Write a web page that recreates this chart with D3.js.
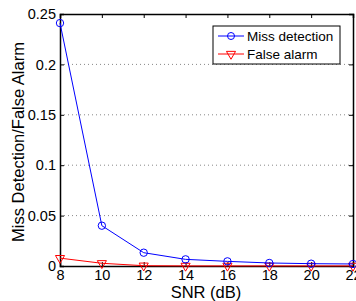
<!DOCTYPE html>
<html>
<head>
<meta charset="utf-8">
<script src="https://cdn.jsdelivr.net/npm/d3@7"></script>
<style>
body { margin: 0; background: #fff; }
text { font-family: "Liberation Sans", Arial, sans-serif; }
</style>
</head>
<body>
<script>
const snr = [8, 10, 12, 14, 16, 18, 20, 22];
const missDetection = [0.241, 0.040, 0.0132, 0.0066, 0.0046, 0.0030, 0.0023, 0.0020];
const falseAlarm = [0.0078, 0.0027, 0.0003, 0.0001, 0.0001, 0.0001, 0.0001, 0.0001];
const xTicks = [8, 10, 12, 14, 16, 18, 20, 22];
const yTicks = [0, 0.05, 0.1, 0.15, 0.2, 0.25];

const W = 356, H = 301;
const m = { left: 60, top: 14, right: 353, bottom: 266 };

const svg = d3.select("body").append("svg").attr("width", W).attr("height", H);

const x = d3.scaleLinear().domain([8, 22]).range([m.left, m.right]);
const y = d3.scaleLinear().domain([0, 0.25]).range([m.bottom, m.top]);

// grid
svg.append("g")
	.selectAll("line")
	.data(yTicks.slice(1, -1))
	.join("line")
	.attr("x1", m.left).attr("x2", m.right)
	.attr("y1", d => y(d)).attr("y2", d => y(d))
	.attr("stroke", "#888").attr("stroke-dasharray", "1,3");

// axes
const xAxis = d3.axisBottom(x).tickValues(xTicks).tickSize(-4).tickPadding(4).tickFormat(d3.format("d"));
const yAxis = d3.axisLeft(y).tickValues(yTicks).tickSize(-4).tickPadding(4).tickFormat(d => d === 0 ? "0" : d3.format("")(d));

svg.append("g").attr("transform", `translate(0,${m.bottom})`).call(xAxis);
svg.append("g").attr("transform", `translate(${m.left},0)`).call(yAxis);
svg.append("g").attr("transform", `translate(0,${m.top})`)
	.call(d3.axisTop(x).tickValues(xTicks).tickSize(-4).tickFormat(""));
svg.append("g").attr("transform", `translate(${m.right},0)`)
	.call(d3.axisRight(y).tickValues(yTicks).tickSize(-4).tickFormat(""));

svg.selectAll(".domain").attr("stroke", "#000").attr("stroke-width", 1.5);
svg.selectAll(".tick line").attr("stroke", "#000");
svg.selectAll(".tick text").attr("font-size", 14.5).attr("fill", "#000")
	.attr("font-family", "Liberation Sans, Arial, sans-serif");

// labels
svg.append("text").attr("x", 206).attr("y", 298)
	.attr("text-anchor", "middle").attr("font-size", 16.5).text("SNR (dB)");
svg.append("text").attr("transform", `translate(24,142) rotate(-90)`)
	.attr("text-anchor", "middle").attr("font-size", 16.5).text("Miss Detection/False Alarm");

const line = d3.line().x((d, i) => x(snr[i])).y(d => y(d));

// false alarm
svg.append("path").datum(falseAlarm).attr("d", line)
	.attr("fill", "none").attr("stroke", "#f00").attr("stroke-width", 1);
const tri = d3.symbol().type(d3.symbolTriangle).size(36);
svg.append("g").selectAll("path").data(falseAlarm).join("path")
	.attr("d", tri)
	.attr("transform", (d, i) => `translate(${x(snr[i])},${y(d)}) rotate(180)`)
	.attr("fill", "none").attr("stroke", "#f00");

// miss detection
svg.append("path").datum(missDetection).attr("d", line)
	.attr("fill", "none").attr("stroke", "#00f").attr("stroke-width", 1);
svg.append("g").selectAll("circle").data(missDetection).join("circle")
	.attr("cx", (d, i) => x(snr[i])).attr("cy", d => y(d)).attr("r", 3.7)
	.attr("fill", "none").attr("stroke", "#00f");

// legend
const lg = svg.append("g").attr("transform", "translate(213,26)");
lg.append("rect").attr("width", 127).attr("height", 38)
	.attr("fill", "#fff").attr("stroke", "#000");
const items = [
	{ name: "Miss detection", color: "#00f", mark: "circle" },
	{ name: "False alarm", color: "#f00", mark: "tri" }
];
items.forEach((it, i) => {
	const yy = 10 + i * 18;
	lg.append("line").attr("x1", 5).attr("x2", 31).attr("y1", yy).attr("y2", yy)
		.attr("stroke", it.color);
	if (it.mark === "circle") {
		lg.append("circle").attr("cx", 18).attr("cy", yy).attr("r", 3.5)
			.attr("fill", "none").attr("stroke", it.color);
	} else {
		lg.append("path").attr("d", tri).attr("transform", `translate(18,${yy}) rotate(180)`)
			.attr("fill", "none").attr("stroke", it.color);
	}
	lg.append("text").attr("x", 34).attr("y", yy + 5).attr("font-size", 13.5).text(it.name);
});
</script>
</body>
</html>
